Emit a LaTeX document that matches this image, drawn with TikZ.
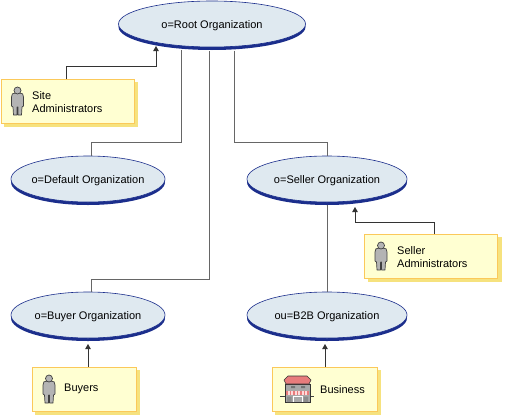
\documentclass[tikz,border=0pt]{standalone}
\usepackage{fontspec}
\setmainfont{Liberation Sans}
\usetikzlibrary{shapes.geometric,arrows.meta}
\definecolor{ellfill}{HTML}{DFE9F0}
\definecolor{ellnavy}{HTML}{1B2E8C}
\definecolor{boxfill}{HTML}{FFFFD2}
\definecolor{boxedge}{HTML}{FBC95A}
\definecolor{boxshadow}{HTML}{F6E27E}
\definecolor{linegray}{HTML}{666666}
\definecolor{persongray}{HTML}{B4B4B4}
\definecolor{roofpink}{HTML}{E87C7C}
\definecolor{storegray}{HTML}{A8A8A8}
\tikzset{
  org/.style={ellipse,draw=ellnavy,line width=.6pt,fill=ellfill,inner sep=0pt,
    minimum width=#1,minimum height=46pt,font=\fontsize{11pt}{13pt}\selectfont,text=black},
  orgshadow/.style={ellipse,fill=ellnavy,inner sep=0pt,minimum width=#1,minimum height=46pt},
  rolebox/.style={draw=boxedge,line width=.9pt,fill=boxfill,inner sep=0pt,
    minimum height=44pt,minimum width=#1},
  roleshadow/.style={fill=boxshadow,draw=boxshadow,inner sep=0pt,minimum height=44pt,minimum width=#1},
  lab/.style={anchor=west,inner sep=0pt,align=left,font=\fontsize{11pt}{13pt}\selectfont,text=black},
  link/.style={draw=linegray,line width=.8pt},
  arrowlink/.style={draw=black!80,line width=.8pt,-{Triangle[length=5pt,width=5.5pt]}},
  pics/person/.style={code={
    \draw[black!75,line width=.7pt,fill=persongray,line join=round]
      (-2,-8) -- (2,-8) .. controls (5,-8) and (6,-7) .. (6,-4)
      -- (6,5) -- (4.5,6) -- (4,14) -- (.6,14) -- (.4,6) -- (-.4,6) -- (-.6,14) -- (-4,14) -- (-4.5,6) -- (-6,5)
      -- (-6,-4) .. controls (-6,-7) and (-5,-8) .. (-2,-8) -- cycle;
    \draw[black!75,line width=.7pt,fill=persongray] (0,-10.5) circle (3.5pt);
  }},
}
\newcommand{\orgtext}[1]{\makebox[0pt]{\smash{\raisebox{-4.5pt}{#1}}}}
\begin{document}
\begin{tikzpicture}[x=1pt,y=-1pt]
\useasboundingbox (0,0) rectangle (505,415);
\fill[white] (0,0) rectangle (505,415);
% shadows of the ellipses
\node[orgshadow=187pt] at (212,27) {};
\node[orgshadow=154pt] at (88,182) {};
\node[orgshadow=160pt] at (327,182) {};
\node[orgshadow=154pt] at (88,318) {};
\node[orgshadow=160pt] at (327,318) {};
% ellipses
\node[org=187pt] (root) at (212,24) {\orgtext{o=Root Organization}};
\node[org=154pt] (default) at (88,179) {\orgtext{o=Default Organization}};
\node[org=160pt] (seller) at (327,179) {\orgtext{o=Seller Organization}};
\node[org=154pt] (buyer) at (88,315) {\orgtext{o=Buyer Organization}};
\node[org=160pt] (b2b) at (327,315) {\orgtext{ou=B2B Organization}};
% shadows of the boxes
\node[roleshadow=133pt] at (70.5,104) {};
\node[roleshadow=133pt] at (434.5,259) {};
\node[roleshadow=104pt] at (87,392) {};
\node[roleshadow=105pt] at (327.5,392) {};
% boxes
\node[rolebox=133pt] (site) at (67.5,101) {};
\node[rolebox=133pt] (selleradm) at (431,256) {};
\node[rolebox=104pt] (buyers) at (84,389) {};
\node[rolebox=105pt] (business) at (324.5,389) {};
% box contents
\pic at (17.5,101) {person};
\node[lab] at (32,102) {Site\\Administrators};
\pic at (381,256) {person};
\node[lab] at (397,257) {Seller\\Administrators};
\pic at (49,389) {person};
\node[lab] at (64,389) {Buyers};
\node[lab] at (320,390) {Business};
% store icon
\draw[black!75,line width=.5pt] (280,396.5) -- (314,396.5);
\draw[black!80,line width=.6pt,fill=storegray] (285,384) -- (310,384) -- (310,402.5) -- (285,402.5) -- cycle;
\draw[black!80,line width=.6pt,fill=roofpink,line join=round] (288,376) -- (307,376) -- (311,380) -- (309,384) -- (286,384) -- (284,380) -- cycle;
\fill[black!55] (291,386) rectangle (295,388) (301,386) rectangle (305,388);
\fill[white!85!red] (286,391) rectangle (309,395);
\foreach \s in {286,289.5,293,296.5,300,303.5,307}{\fill[roofpink] (\s,391) rectangle (\s+1.6,395);}
\draw[white,line width=.7pt] (293,402) -- (293,396) -- (302,396) -- (302,402);
\fill[black!45] (287,396.5) rectangle (291.5,402) (303.5,396.5) rectangle (308,402);
% connectors
\coordinate (rootA) at (181,49.5);
\coordinate (rootB) at (209,50.5);
\coordinate (rootC) at (234,50.5);
\coordinate (rootD) at (156,46);
\coordinate (defT) at (91,156);
\coordinate (buyT) at (91,292);
\coordinate (sellerB) at (327,205);
\coordinate (sellerR) at (355,207);
\coordinate (siteT) at (66,79);
\coordinate (admT) at (434,234);
\coordinate (buyA) at (88,344);
\coordinate (busA) at (325,344);
\draw[link] (defT) -- (91,142) -| (rootA);
\draw[link] (buyT) -- (91,279) -| (rootB);
\draw[link] (rootC) |- (327,142) -- (seller.north);
\draw[link] (sellerB) -- (b2b.north);
\draw[arrowlink] (siteT) -- (66,66) -| (rootD);
\draw[arrowlink] (admT) -- (434,222) -| (sellerR);
\draw[arrowlink] (buyA |- buyers.north) -- (buyA);
\draw[arrowlink] (busA |- business.north) -- (busA);
\end{tikzpicture}
\end{document}
